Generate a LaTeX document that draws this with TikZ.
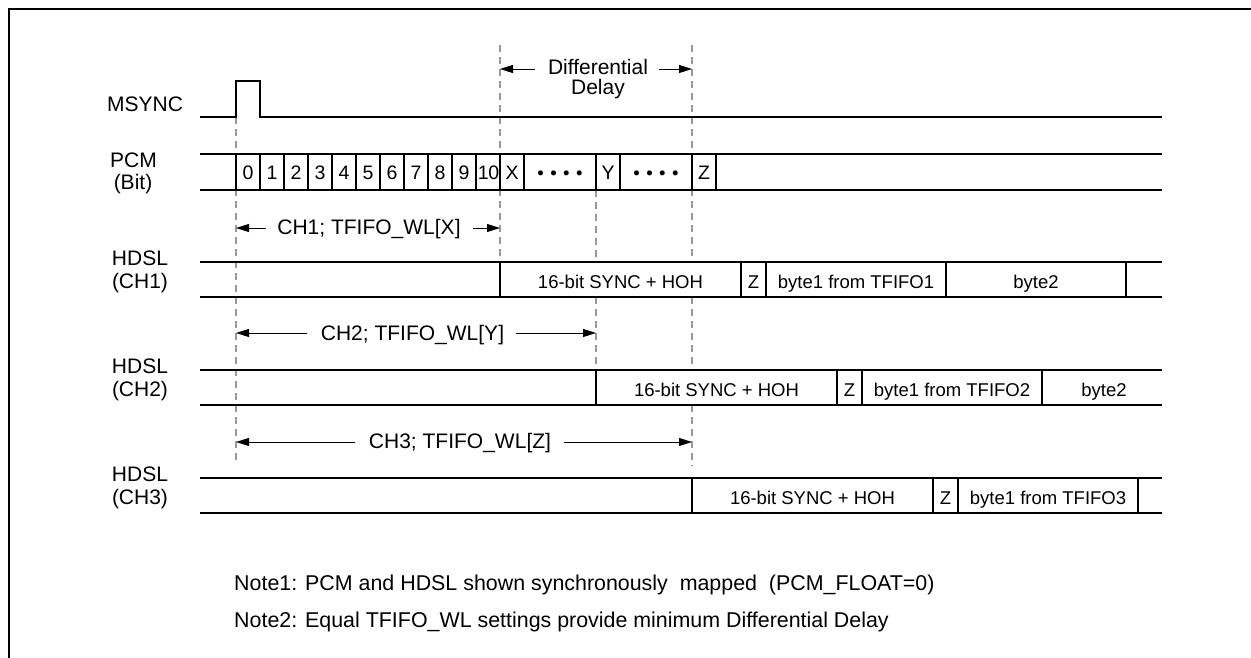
\documentclass[tikz,border=0pt]{standalone}
\usepackage{fontspec}
\setmainfont{Liberation Sans}
\usetikzlibrary{arrows.meta}
\begin{document}
\begin{tikzpicture}[x=1bp,y=-1bp,
  lbl/.style={font=\fontsize{21bp}{24bp}\selectfont, inner sep=0pt, anchor=base},
  note/.style={font=\fontsize{21.4bp}{24bp}\selectfont, inner sep=0pt, anchor=base west},
  cell/.style={font=\fontsize{18.5bp}{22bp}\selectfont, inner sep=0pt, anchor=base},
  bitcell/.style={font=\fontsize{19.5bp}{22bp}\selectfont, inner sep=0pt, anchor=base},
  sig/.style={line width=1.8bp},
  sepline/.style={line width=1.4bp},
  guide/.style={draw=gray!80, line width=1.1bp, dash pattern=on 7bp off 5bp},
  dim/.style={line width=0.8bp, -{Triangle[length=13bp,width=8bp]}},
  frame/.style={line width=2bp}]
\useasboundingbox (0,0) rectangle (1251,658);

% frame (top and left edges)
\coordinate (fTL) at (9,9);
\coordinate (fTR) at (1251,9);
\coordinate (fBL) at (9,658);
\draw[frame] (fTR) -- (fTL) -- (fBL);

% guide lines
\coordinate (gA1) at (236,117); \coordinate (gA2) at (236,462);
\coordinate (gB1) at (500,45);  \coordinate (gB2) at (500,262);
\coordinate (gC1) at (596,190); \coordinate (gC2) at (596,262);
\coordinate (gC3) at (596,297); \coordinate (gC4) at (596,370);
\coordinate (gD1) at (692,45);  \coordinate (gD2) at (692,262);
\coordinate (gD3) at (692,297); \coordinate (gD4) at (692,370);
\coordinate (gD5) at (692,405); \coordinate (gD6) at (692,466);
\draw[guide] (gA1) -- (gA2);
\draw[guide] (gB1) -- (gB2);
\draw[guide] (gC1) -- (gC2);
\draw[guide] (gC3) -- (gC4);
\draw[guide] (gD1) -- (gD2);
\draw[guide] (gD3) -- (gD4);
\draw[guide] (gD5) -- (gD6);

% MSYNC
\node[lbl] (msync) at (145,111.7) {MSYNC};
\draw[sig] (200,117) -- (236,117) -- (236,81) -- (260,81) -- (260,117) -- (1162,117);

% Differential delay
\node[lbl] (diff1) at (598,75) {Differential};
\node[lbl] (diff2) at (598,95) {Delay};
\coordinate (dL) at (535,69); \coordinate (dLt) at (500,69);
\coordinate (dR) at (659,69); \coordinate (dRt) at (692,69);
\draw[dim] (dL) -- (dLt);
\draw[dim] (dR) -- (dRt);

% PCM row
\node[lbl] (pcm1) at (133.5,168) {PCM};
\node[lbl] (pcm2) at (133,190) {(Bit)};
\draw[sig] (200,154) -- (1162,154);
\draw[sig] (200,190) -- (1162,190);
\foreach \x in {236,260,...,524,596,620,692,716}
  \draw[sepline] (\x,154) -- (\x,190);
\foreach \n in {0,...,9}
  \node[bitcell] (bit\n) at ({248+24*\n},180) {\n};
\node[bitcell] (bit10) at (488.5,180) {1\kern-0.5bp0};
\node[bitcell] (bitX) at (512,180) {X};
\node[cell] (dots1) at (560,180) {•\hspace{6.5bp}•\hspace{6.5bp}•\hspace{6.5bp}•};
\node[bitcell] (bitY) at (608,180) {Y};
\node[cell] (dots2) at (656,180) {•\hspace{6.5bp}•\hspace{6.5bp}•\hspace{6.5bp}•};
\node[bitcell] (bitZ) at (704,180) {Z};

% CH1 arrow
\node[lbl] (wl1) at (369,235) {CH1; TFIFO\_WL[X]};
\coordinate (a1l) at (266,228); \coordinate (a1lt) at (236,228);
\coordinate (a1r) at (473,228); \coordinate (a1rt) at (500,228);
\draw[dim] (a1l) -- (a1lt);
\draw[dim] (a1r) -- (a1rt);

% HDSL CH1
\node[lbl] (h1a) at (140,265.5) {HDSL};
\node[lbl] (h1b) at (140,288.5) {(CH1)};
\draw[sig] (200,262) -- (1162,262);
\draw[sig] (200,297) -- (1162,297);
\foreach \x in {500,741,766,946,1126}
  \draw[sepline] (\x,262) -- (\x,297);
\node[cell] (c1s) at (620.5,288) {16-bit SYNC + HOH};
\node[cell] (c1z) at (753.5,288) {Z};
\node[cell] (c1b) at (856,288) {byte1 from TFIFO1};
\node[cell] (c1c) at (1036,288) {byte2};

% CH2 arrow
\node[lbl] (wl2) at (412.5,340) {CH2; TFIFO\_WL[Y]};
\coordinate (a2l) at (307,333); \coordinate (a2lt) at (236,333);
\coordinate (a2r) at (516,333); \coordinate (a2rt) at (596,333);
\draw[dim] (a2l) -- (a2lt);
\draw[dim] (a2r) -- (a2rt);

% HDSL CH2
\node[lbl] (h2a) at (140,373.5) {HDSL};
\node[lbl] (h2b) at (140,396.5) {(CH2)};
\draw[sig] (200,370) -- (1162,370);
\draw[sig] (200,405) -- (1162,405);
\foreach \x in {596,837,862,1042}
  \draw[sepline] (\x,370) -- (\x,405);
\node[cell] (c2s) at (716.5,396) {16-bit SYNC + HOH};
\node[cell] (c2z) at (849.5,396) {Z};
\node[cell] (c2b) at (952,396) {byte1 from TFIFO2};
\node[cell] (c2c) at (1104,396) {byte2};

% CH3 arrow
\node[lbl] (wl3) at (460,448.5) {CH3; TFIFO\_WL[Z]};
\coordinate (a3l) at (355,442); \coordinate (a3lt) at (236,442);
\coordinate (a3r) at (564,442); \coordinate (a3rt) at (692,442);
\draw[dim] (a3l) -- (a3lt);
\draw[dim] (a3r) -- (a3rt);

% HDSL CH3
\node[lbl] (h3a) at (140,481.5) {HDSL};
\node[lbl] (h3b) at (140,504.5) {(CH3)};
\draw[sig] (200,478) -- (1162,478);
\draw[sig] (200,513) -- (1162,513);
\foreach \x in {692,933,958,1138}
  \draw[sepline] (\x,478) -- (\x,513);
\node[cell] (c3s) at (812.5,504) {16-bit SYNC + HOH};
\node[cell] (c3z) at (945.5,504) {Z};
\node[cell] (c3b) at (1048,504) {byte1 from TFIFO3};

% Notes
\node[note] (n1) at (234,590) {Note1: PCM and HDSL shown synchronously\ \ mapped\ \ (PCM\_FLOAT=0)};
\node[note] (n2) at (234,627) {Note2: Equal TFIFO\_WL settings provide minimum Differential Delay};
\end{tikzpicture}
\end{document}
